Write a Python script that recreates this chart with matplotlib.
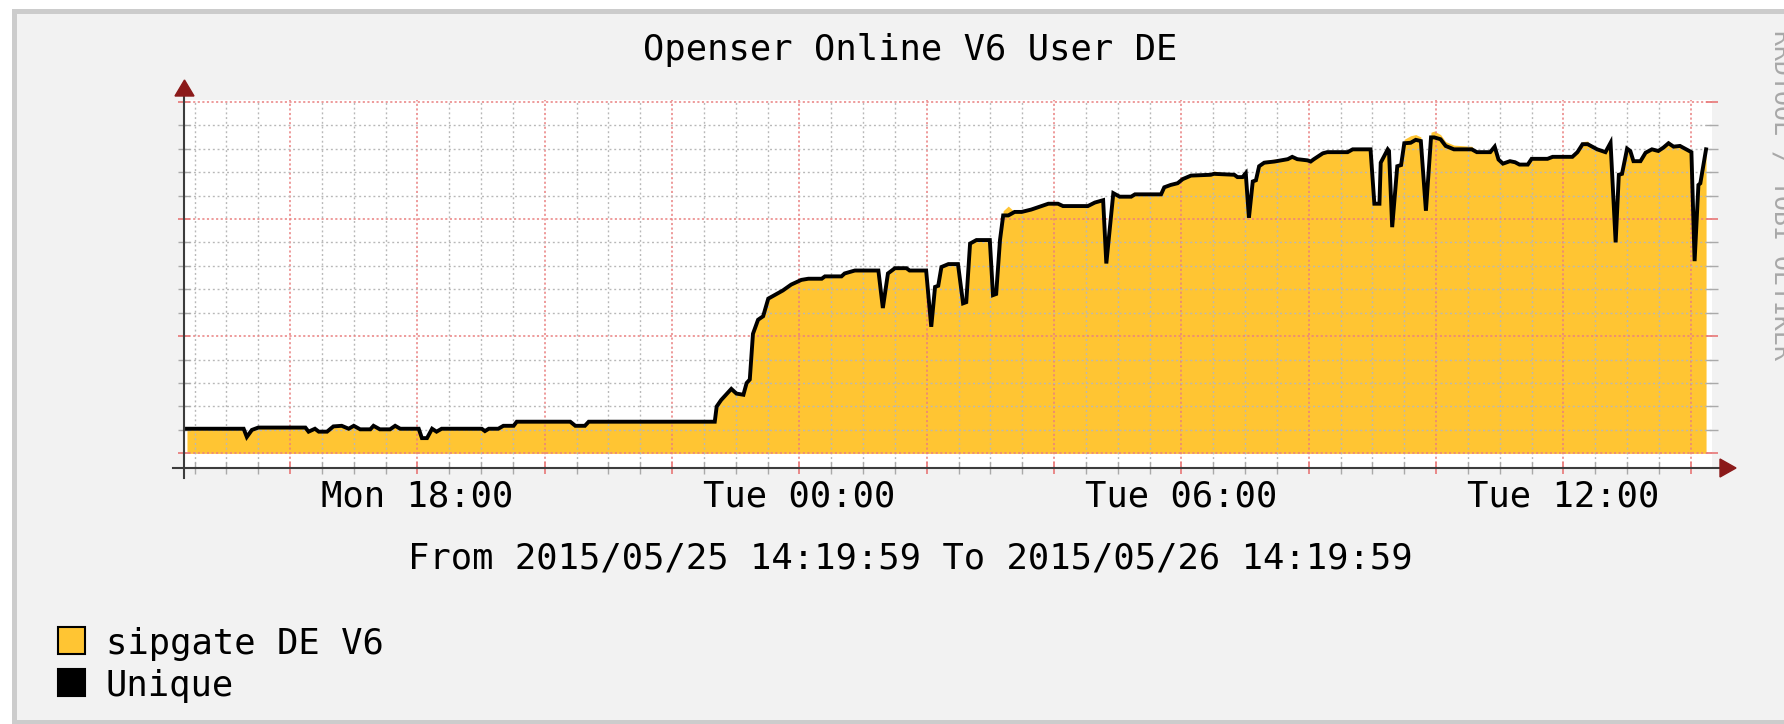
import matplotlib
matplotlib.use("Agg")
import matplotlib.pyplot as plt
from matplotlib.patches import Rectangle, Polygon
from matplotlib.lines import Line2D
from matplotlib.ticker import MultipleLocator, FuncFormatter

TITLE = "Openser Online V6 User DE"
RANGE_TEXT = "From 2015/05/25 14:19:59 To 2015/05/26 14:19:59"
WATERMARK = "RRDTOOL / TOBI OETIKER"

# time in hours since Mon 00:00 (graph runs 14:19:59 -> next day 14:19:59)
hours = [
    14.38, 15.27, 15.32, 15.40, 15.50, 16.24, 16.29, 16.39, 16.45, 16.58,
    16.68, 16.81, 16.92, 17.00, 17.10, 17.26, 17.31, 17.41, 17.57, 17.65,
    17.73, 18.02, 18.07, 18.15, 18.23, 18.30, 18.38, 19.01, 19.06, 19.12,
    19.27, 19.35, 19.51, 19.56, 20.40, 20.48, 20.63, 20.69,
    22.67, 22.70, 22.77, 22.93, 23.01, 23.12, 23.17, 23.22, 23.27, 23.35,
    23.43, 23.51, 23.61, 23.74, 23.87, 24.03, 24.14, 24.35, 24.40, 24.66,
    24.71, 24.87, 25.24, 25.31, 25.39, 25.50, 25.68, 25.73, 25.99, 26.07,
    26.13, 26.18, 26.23, 26.34, 26.49, 26.57, 26.62, 26.68, 26.78, 26.99,
    27.04, 27.09, 27.15, 27.20, 27.28, 27.38, 27.49, 27.64, 27.75, 27.91,
    28.06, 28.14, 28.53, 28.64, 28.77, 28.82, 28.93, 29.03, 29.21, 29.27,
    29.68, 29.73, 29.83, 29.94, 30.02, 30.15, 30.46, 30.51, 30.83, 30.88,
    30.96, 31.01, 31.06, 31.12, 31.17, 31.22, 31.30, 31.46, 31.67, 31.74,
    31.82, 31.98, 32.03, 32.08, 32.22, 32.29, 32.61, 32.69, 32.97, 33.03,
    33.11, 33.13, 33.24, 33.26, 33.31, 33.39, 33.45, 33.50, 33.60, 33.68,
    33.76, 33.84, 33.92, 33.97,
    34.07, 34.15, 34.28, 34.56, 34.64, 34.85, 34.92, 34.98, 35.05, 35.16,
    35.24, 35.31, 35.44, 35.50, 35.75, 35.83, 36.14, 36.22, 36.30, 36.38,
    36.43, 36.53, 36.66, 36.74, 36.82, 36.87, 36.92, 37.00, 37.05, 37.10,
    37.21, 37.29, 37.39, 37.49, 37.57, 37.65, 37.73, 37.83, 37.93, 38.01,
    38.06, 38.12, 38.15, 38.24,
]

unique = [
    21, 21, 14, 20, 22, 22, 18.5, 21, 18.5, 18.5,
    23, 23.5, 21, 23.5, 20.5, 20.5, 23.5, 20.5, 20.5, 23.5,
    21, 21, 13, 13, 21, 18.5, 21, 21, 19, 21,
    21, 23.5, 23.5, 27, 27, 23.5, 23.5, 27,
    27, 40, 45.5, 55, 51, 50, 60, 63, 102, 114,
    117, 132, 135, 139, 144, 148, 149, 149, 151, 151,
    153.5, 156, 156, 124, 153.5, 158, 158, 156, 156, 108,
    142, 143, 159, 161.5, 161.5, 128, 129, 179, 182, 182,
    135, 136, 182, 203, 203, 206, 206, 208, 210, 213,
    213, 211, 211, 214, 216, 162, 222, 219, 219, 221,
    221, 227, 229, 230.5, 234, 237, 237.7, 238.5, 237.7, 235.7,
    235.7, 239, 201, 232, 233, 245, 248, 249, 251, 253,
    251, 250, 249, 251, 256, 257, 257, 259.4, 259.4, 213,
    213, 248, 259.4, 258, 193, 245, 246, 264.6, 265, 267.5,
    266.5, 207, 269.6, 269.6,
    268, 262.3, 259.4, 259.4, 257, 257, 261.7, 250.7, 247.2, 249.3,
    248.4, 246.4, 246.4, 251.3, 251.3, 253, 253, 257, 263.8, 263.8,
    262.3, 259.4, 257, 265, 180, 237.7, 238.5, 260, 258, 249.3,
    249.3, 256.5, 259.4, 258, 260.9, 264.6, 261.7, 262.3, 259.4, 257,
    164, 229, 230.4, 259.4,
]

sipgate = [
    21, 21, 14, 20, 22, 22, 18.5, 21, 18.5, 18.5,
    23, 23.5, 21, 23.5, 20.5, 20.5, 23.5, 20.5, 20.5, 23.5,
    21, 21, 13, 13, 21, 18.5, 21, 21, 19, 21,
    21, 23.5, 23.5, 27, 27, 23.5, 23.5, 27,
    27, 40, 45.5, 55, 51, 50, 60, 63, 102, 114,
    117, 132, 135, 139, 144, 148, 149, 149, 151, 151,
    153.5, 156, 156, 124, 153.5, 158, 158, 156, 156, 108,
    142, 143, 159, 161.5, 161.5, 128, 129, 179, 182, 182,
    135, 136, 182, 207, 211, 206, 206, 208, 210, 213,
    213, 211, 211, 214, 216, 162, 222, 219, 219, 221,
    221, 227, 229, 230.5, 234, 237, 239, 241, 237.7, 235.7,
    235.7, 239, 201, 232, 233, 245, 250, 251, 251, 253,
    251, 250, 249, 251, 256, 257, 257, 259.4, 259.4, 213,
    213, 248, 259.4, 258, 193, 245, 246, 268, 271, 272,
    270, 207, 274, 275,
    272, 266, 263, 262, 257, 257, 261.7, 250.7, 247.2, 249.3,
    248.4, 246.4, 246.4, 251.3, 251.3, 253, 253, 257, 266, 266.5,
    262.3, 259.4, 257, 265, 180, 237.7, 238.5, 260, 258, 249.3,
    249.3, 256.5, 259.4, 258, 260.9, 267, 261.7, 262.3, 259.4, 257,
    164, 229, 230.4, 261,
]

x_tick_hours = [18, 24, 30, 36]
x_tick_labels = ["Mon 18:00", "Tue 00:00", "Tue 06:00", "Tue 12:00"]
legend_labels = ["sipgate DE V6", "Unique"]

START, END = 14 + 20 / 60, 38 + 20 / 60

YELLOW = "#ffc533"
MGRID = "#e98080"
GRID = "#b8b8b8"
AXIS = "#3c3c3c"
ARROW = "#8b1a1a"
MONO = "DejaVu Sans Mono"
FS = 25.6

W, H = 1784, 724


def fx(px):
    return px / W


def fy(py):
    return 1 - py / H


fig = plt.figure(figsize=(W / 100, H / 100), dpi=100, facecolor="white")

# rrdtool style frame
fig.add_artist(Rectangle((fx(12), fy(724)), fx(1800) - fx(12), fy(9) - fy(724),
                         transform=fig.transFigure, facecolor="#cccccc", edgecolor="none", zorder=-3))
fig.add_artist(Rectangle((fx(17), fy(720)), fx(1800) - fx(17), fy(14) - fy(720),
                         transform=fig.transFigure, facecolor="#f2f2f2", edgecolor="none", zorder=-2))

ax = fig.add_axes([fx(184), fy(468), fx(1712) - fx(184), fy(100) - fy(468)])
ax.set_facecolor("white")
ax.set_xlim(START, END)
ax.set_ylim(-12.5, 301.5)

ax.fill_between(hours, 0, sipgate, color=YELLOW, lw=0, zorder=1)
ax.plot(hours, unique, color="black", lw=2.8, zorder=3, solid_joinstyle="miter")

ax.xaxis.set_major_locator(MultipleLocator(2))
ax.xaxis.set_minor_locator(MultipleLocator(0.5))
ax.yaxis.set_major_locator(MultipleLocator(100))
ax.yaxis.set_minor_locator(MultipleLocator(20))

labels = dict(zip(x_tick_hours, x_tick_labels))
ax.xaxis.set_major_formatter(FuncFormatter(lambda v, pos: labels.get(int(round(v)), "")))

ax.set_axisbelow(False)
ax.grid(which="minor", color=GRID, ls=(0, (1.4, 2.0)), lw=1.0)
ax.grid(which="major", color=MGRID, ls=(0, (1.4, 1.6)), lw=1.1)

for s in ax.spines.values():
    s.set_visible(False)

ax.tick_params(axis="x", which="major", direction="inout", length=9, width=1.3,
               color=MGRID, pad=4, labelsize=FS)
ax.tick_params(axis="x", which="minor", direction="inout", length=8, width=1.0, color="#aaaaaa")
ax.tick_params(axis="y", which="major", direction="inout", length=8, width=1.3,
               color=MGRID, left=True, right=True, labelleft=False)
ax.tick_params(axis="y", which="minor", direction="inout", length=8, width=1.0,
               color="#aaaaaa", left=True, right=True)
for lab in ax.get_xticklabels():
    lab.set_family(MONO)

# axis lines with arrows
fig.add_artist(Line2D([fx(173), fx(1722)], [fy(468), fy(468)], transform=fig.transFigure,
                      color=AXIS, lw=1.5, zorder=5))
fig.add_artist(Line2D([fx(184), fx(184)], [fy(478), fy(95)], transform=fig.transFigure,
                      color=AXIS, lw=1.5, zorder=5))
fig.add_artist(Polygon([(fx(1720), fy(459)), (fx(1720), fy(477)), (fx(1736), fy(468))],
                       closed=True, transform=fig.transFigure, color=ARROW, zorder=6))
fig.add_artist(Polygon([(fx(175), fy(96)), (fx(194), fy(96)), (fx(184.5), fy(80))],
                       closed=True, transform=fig.transFigure, color=ARROW, zorder=6))

fig.text(fx(910), fy(60), TITLE, ha="center", va="baseline", fontsize=FS, family=MONO)
fig.text(fx(910), fy(568), RANGE_TEXT, ha="center", va="baseline", fontsize=FS, family=MONO)
fig.text(fx(1781), fy(195), WATERMARK, rotation=270, ha="center", va="center",
         fontsize=18, family=MONO, color="#a8a8a8")

# legend
legend_colors = [YELLOW, "black"]
for i, (lab, col) in enumerate(zip(legend_labels, legend_colors)):
    top = 627 + i * 42
    fig.add_artist(Rectangle((fx(58), fy(top + 27)), fx(85) - fx(58), fy(top) - fy(top + 27),
                             transform=fig.transFigure, facecolor=col, edgecolor="black", lw=1.5))
    fig.text(fx(106), fy(top + 27), lab, ha="left", va="baseline", fontsize=FS, family=MONO)

fig.savefig("out.png", dpi=100, facecolor=fig.get_facecolor())
